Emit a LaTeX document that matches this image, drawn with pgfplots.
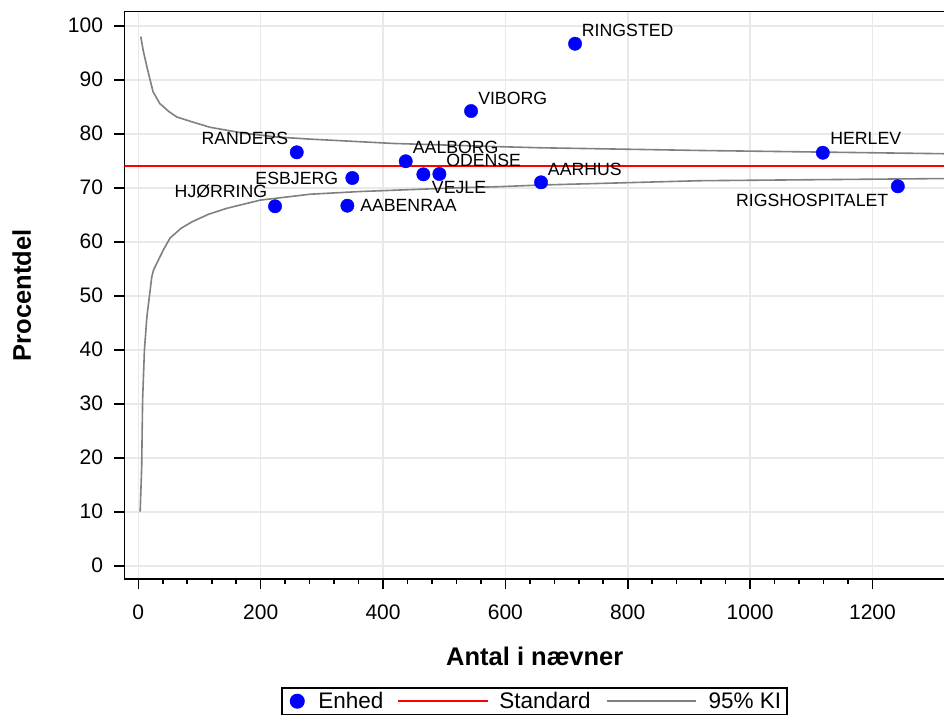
\documentclass[border=0pt]{standalone}
\usepackage{fontspec}
\setmainfont{Liberation Sans}
\usepackage{pgfplots}
\pgfplotsset{compat=1.18}
\definecolor{cigray}{RGB}{128,128,128}
\definecolor{gridgray}{RGB}{233,233,233}
\tikzset{lab/.style={font=\fontsize{17.7}{17.7}\selectfont, inner sep=0pt}}
\begin{document}
\begin{tikzpicture}
\useasboundingbox (-124.5pt,-139pt) rectangle (819.5pt,579pt);
\begin{axis}[
  scale only axis, width=820.5pt, height=567.3pt,
  xmin=-22.6, xmax=1318.6, ymin=-2.46, ymax=102.6,
  axis line style={line width=1.6pt},
  xtick={0,200,...,1200}, ytick={0,10,...,100},
  minor x tick num=4,
  tick align=outside, xtick pos=bottom, ytick pos=left,
  major tick length=10pt, minor tick length=5pt,
  every tick/.style={black, line width=1.6pt},
  grid=major, major grid style={gridgray, line width=1.6pt},
  /pgf/number format/assume math mode=true,
  /pgf/number format/1000 sep={},
  tick label style={font=\fontsize{21}{21}\selectfont},
  xticklabel style={yshift=-12pt},
  yticklabel style={xshift=-8pt},
  xlabel={Antal i nævner}, ylabel={Procentdel},
  every axis x label/.style={at={(axis description cs:0.5,-0.1357)},anchor=center,font=\fontsize{25.5}{25.5}\selectfont\bfseries},
  every axis y label/.style={at={(axis description cs:-0.1251,0.5)},rotate=90,anchor=center,font=\fontsize{25.5}{25.5}\selectfont\bfseries},
  legend columns=3,
  legend style={at={(axis description cs:0.5,-0.1904)}, anchor=north, draw=black, line width=1.6pt,
    font=\fontsize{22.5}{22.5}\selectfont, inner xsep=6pt, inner ysep=4.5pt, nodes={inner sep=0pt}},
]
\addplot[only marks, mark=*, mark size=6.7pt, blue,
  legend image code/.code={\fill[blue] (9pt,0pt) circle (6.7pt); \path[draw=none,fill=none] (0pt,0pt) -- (30pt,0pt);}]
  table {
x y
223.5 66.56
259.0 76.56
341.7 66.67
349.8 71.80
437.1 74.90
465.9 72.48
492.1 72.54
543.9 84.20
658.3 71.00
713.9 96.67
1118.9 76.48
1241.5 70.26
};
\addlegendentry{Enhed}
\addplot[red, line width=1.6pt,
  legend image code/.code={\draw[red, line width=1.6pt] (15pt,0pt) -- (105pt,0pt); \path[draw=none] (0pt,0pt) -- (116pt,0pt);}]
  coordinates {(-22.6,74) (1318.6,74)};
\addlegendentry{Standard}
\addplot[cigray, line width=1.6pt,
  legend image code/.code={\draw[cigray, line width=1.6pt] (16pt,0pt) -- (105pt,0pt); \path[draw=none] (0pt,0pt) -- (118pt,0pt);}]
  coordinates {(4,98.0) (8,95.4) (14,92.4) (24,87.8) (35,85.6) (50,84.1) (63,83.1) (85,82.3) (117,81.2) (172,80.1) (226,79.4) (281,79.0) (417,78.2) (591,77.6) (657,77.4) (918,76.9) (1317,76.3)};
\addlegendentry{95\% KI}
\addplot[cigray, line width=1.6pt, forget plot]
  coordinates {(3,10.0) (5.5,18.3) (7,30.7) (10,40.0) (14,46.1) (22,53.5) (25,54.8) (41,58.5) (52,60.7) (70,62.5) (88,63.7) (115,65.1) (145,66.2) (199,67.7) (281,68.8) (363,69.3) (526,70.0) (591,70.2) (657,70.5) (918,71.3) (1317,71.7)};
\node[lab, anchor=base west, xshift=6.7pt, yshift=7.7pt] at (axis cs:713.9,96.67) {RINGSTED};
\node[lab, anchor=base west, xshift=7pt, yshift=7pt] at (axis cs:543.9,84.20) {VIBORG};
\node[lab, anchor=base east, xshift=-8.4pt, yshift=8pt] at (axis cs:259.0,76.56) {RANDERS};
\node[lab, anchor=base west, xshift=7pt, yshift=7.3pt] at (axis cs:437.1,74.90) {AALBORG};
\node[lab, anchor=base west, xshift=6.7pt, yshift=8pt] at (axis cs:492.1,72.54) {ODENSE};
\node[lab, anchor=base east, xshift=-14pt, yshift=-6pt] at (axis cs:349.8,71.80) {ESBJERG};
\node[lab, anchor=base west, xshift=8.4pt, yshift=-19pt] at (axis cs:465.9,72.48) {VEJLE};
\node[lab, anchor=base east, xshift=-7.7pt, yshift=9pt] at (axis cs:223.5,66.56) {HJØRRING};
\node[lab, anchor=base west, xshift=12.7pt, yshift=-6pt] at (axis cs:341.7,66.67) {AABENRAA};
\node[lab, anchor=base west, xshift=6.7pt, yshift=6.6pt] at (axis cs:658.3,71.00) {AARHUS};
\node[lab, anchor=base west, xshift=7.3pt, yshift=8pt] at (axis cs:1118.9,76.48) {HERLEV};
\node[lab, anchor=base east, xshift=-9.4pt, yshift=-19.7pt] at (axis cs:1241.5,70.26) {RIGSHOSPITALET};
\end{axis}
\end{tikzpicture}
\end{document}
